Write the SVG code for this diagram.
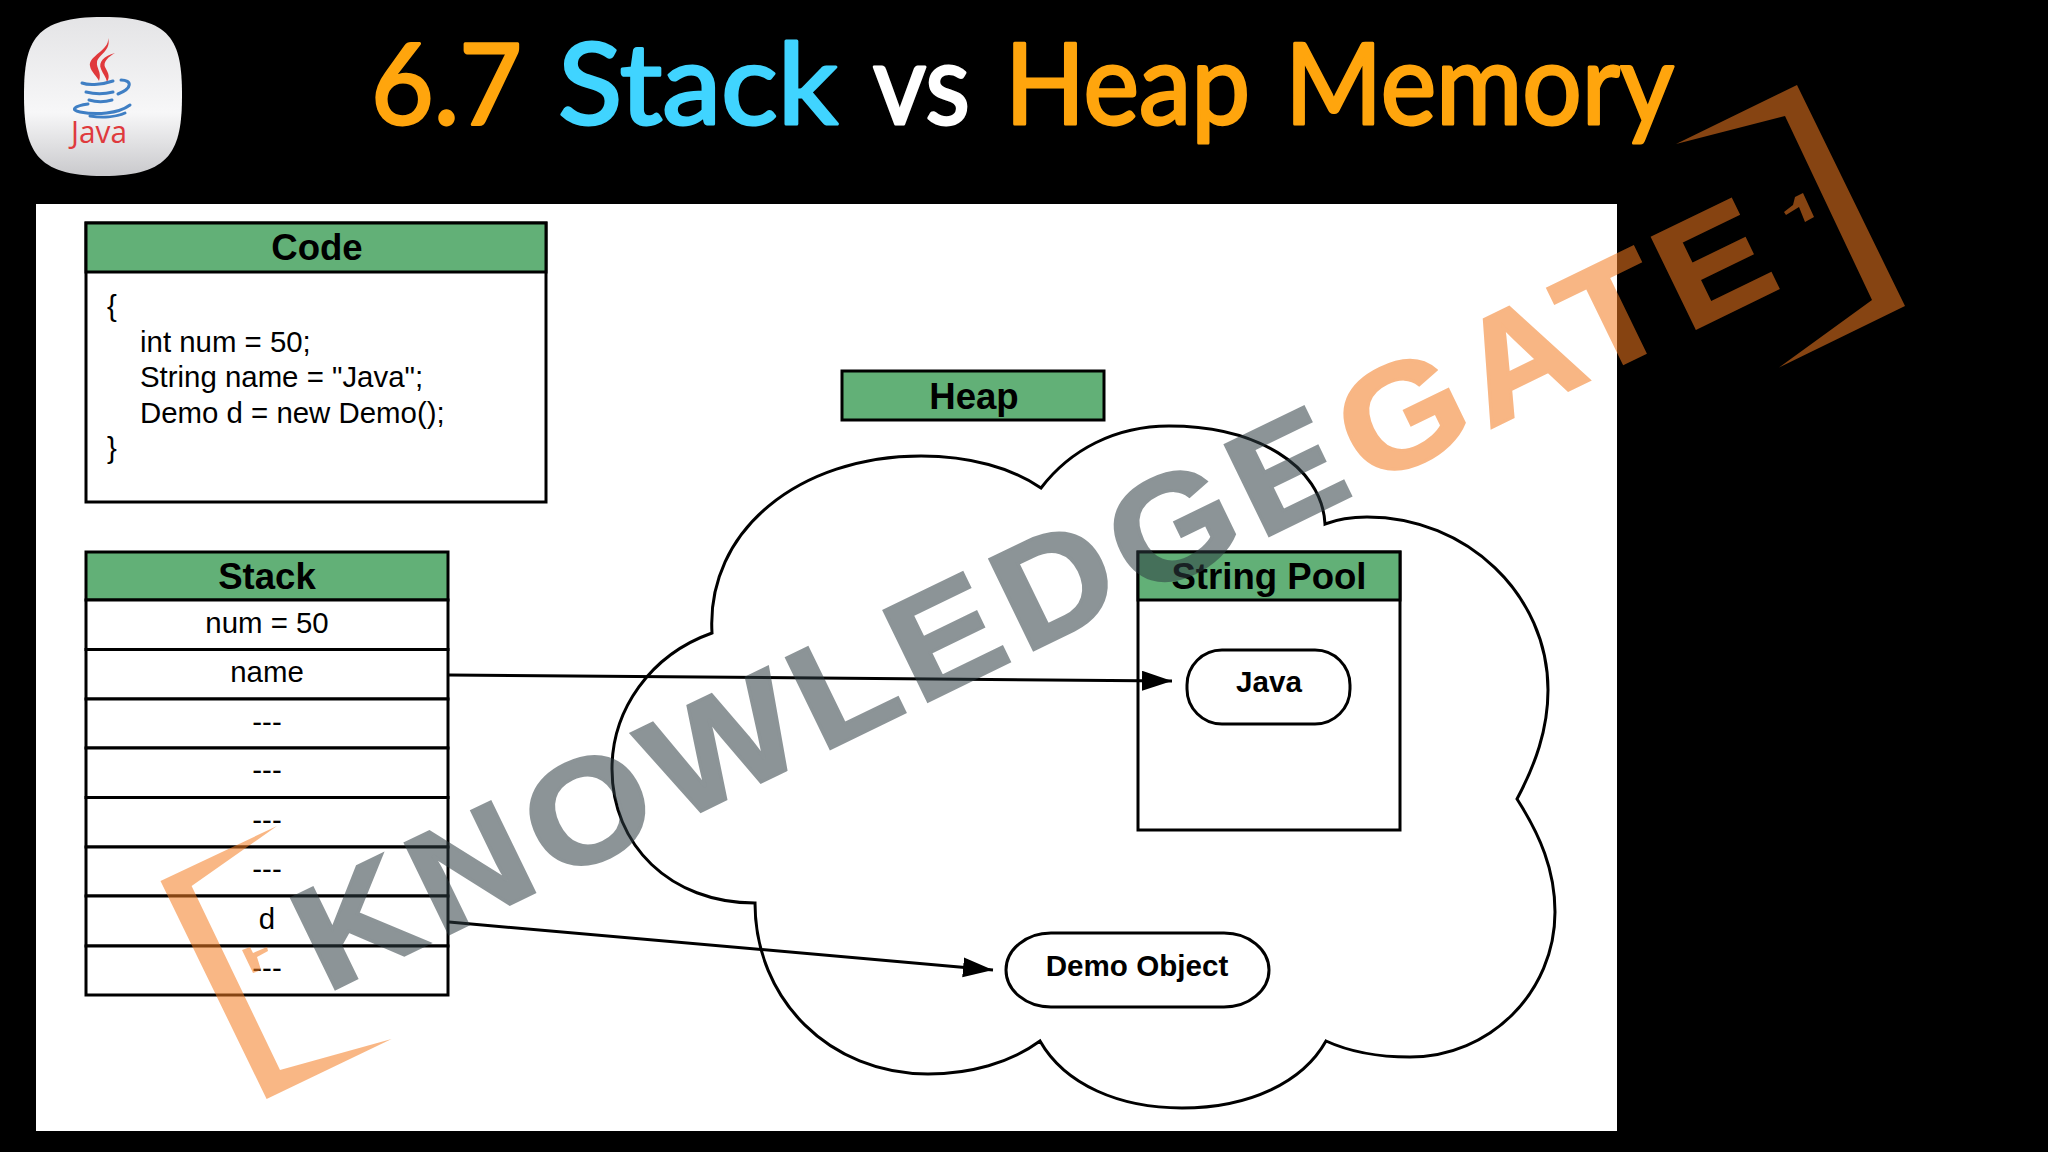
<svg xmlns="http://www.w3.org/2000/svg" width="2048" height="1152" viewBox="0 0 2048 1152">
<defs>
<linearGradient id="ico" x1="0" y1="0" x2="0" y2="1"><stop offset="0" stop-color="#e4e4e6"/><stop offset="0.6" stop-color="#f7f7f8"/><stop offset="1" stop-color="#c9c9cc"/></linearGradient>
<marker id="ah" markerUnits="userSpaceOnUse" markerWidth="32" markerHeight="24" refX="30" refY="10" orient="auto"><path d="M0 0L30 10L0 20Z" fill="#000"/></marker>
</defs>
<style>
.box{fill:#fff;stroke:#000;stroke-width:3}
.hd{fill:#62b077;stroke:#000;stroke-width:3}
.h{font:700 36.600px "Liberation Sans",Arial,sans-serif;text-anchor:middle;fill:#000}
.t{font:400 29.400px "Liberation Sans",Arial,sans-serif;fill:#000}
.c{text-anchor:middle}
.b{font-weight:700;font-size:29.600px}
.ln{fill:none;stroke:#000;stroke-width:3}
.ttl{font:400 112px "Lato","Noto Sans",sans-serif;stroke-width:3;stroke-linejoin:round}
.or{fill:#ffa50d;stroke:#ffa50d}
.wm{font:700 146px "Liberation Sans",Arial,sans-serif;stroke-width:3;stroke-linejoin:miter}
</style>
<rect width="2048" height="1152" fill="#000"/>
<rect x="36" y="204" width="1581" height="927" fill="#fff"/>

<g id="logo">
<path d="M24 95C24 40 35 17 103 17C171 17 182 40 182 95C182 150 171 176 103 176C35 176 24 150 24 95Z" fill="url(#ico)"/>
<path d="M108 38C110 50 88 56 90 66C91 72 97 76 99 81C102 72 96 68 97 62C98 55 112 50 108 38Z" fill="#e0393c"/>
<path d="M115 53C104 56 98 62 101 69C103 74 106 77 107 82C111 76 107 71 105 67C103 62 108 57 115 53Z" fill="#e0393c"/>
<g fill="none" stroke="#3f7fc4" stroke-width="3" stroke-linecap="round">
<path d="M82 83C90 86 104 84 113 81"/><path d="M86 92C94 94 105 94 113 92"/><path d="M89 100C96 102 105 102 112 100"/>
<path d="M88 104C74 106 70 110 80 112C96 115 118 114 130 105"/><path d="M121 80C132 80 133 88 118 94"/><path d="M90 116C102 118 116 117 125 113"/>
</g>
<text x="71" y="143" font-family="Open Sans,sans-serif" font-size="31" fill="#df3a3d" textLength="56" lengthAdjust="spacingAndGlyphs">Java</text>
</g>

<g id="title">
<text class="ttl or" x="371" y="124" textLength="151" lengthAdjust="spacingAndGlyphs">6.7</text>
<text class="ttl" x="558" y="124" fill="#40d4ff" stroke="#40d4ff" textLength="280" lengthAdjust="spacingAndGlyphs">Stack</text>
<text class="ttl" x="873" y="124" fill="#fff" stroke="#fff" textLength="97" lengthAdjust="spacingAndGlyphs">vs</text>
<text class="ttl or" x="1005" y="124" textLength="245" lengthAdjust="spacingAndGlyphs">Heap</text>
<text class="ttl or" x="1285" y="124" textLength="389" lengthAdjust="spacingAndGlyphs">Memory</text>
</g>

<g id="heap-cloud"><path d="M712 633C706 530 800 456 921 456C970 456 1012 468 1041 488C1070 450 1115 426 1169 426C1255 426 1322 465 1325 524C1338 519 1352 517 1367 517C1467 517 1548 595 1548 690C1548 730 1535 765 1517 799C1540 835 1555 870 1555 912C1555 992 1490 1057 1410 1057C1380 1057 1350 1052 1326 1041C1303 1082 1250 1108 1182 1108C1120 1108 1065 1085 1040 1041C1010 1063 970 1074 928 1074C830 1074 755 1000 755 903C670 903 612 845 612 769C612 710 650 655 712 633Z" fill="#fff" stroke="#000" stroke-width="3"/></g>

<g id="code">
<rect class="box" x="86" y="223" width="460" height="279"/>
<rect class="hd" x="86" y="223" width="460" height="49"/>
<text class="h" x="317" y="260">Code</text>
<text class="t" x="107" y="316">{</text>
<text class="t" x="140" y="352">int num = 50;</text>
<text class="t" x="140" y="387">String name = "Java";</text>
<text class="t" x="140" y="423">Demo d = new Demo();</text>
<text class="t" x="107" y="458">}</text>
</g>

<g id="heap-label">
<rect class="hd" x="842" y="371" width="262" height="49"/>
<text class="h" x="974" y="409">Heap</text>
</g>

<g id="stack">
<rect class="hd" x="86" y="552" width="362" height="48"/>
<text class="h" x="267" y="589">Stack</text>
<rect class="box" x="86" y="600" width="362" height="49.500"/><text class="t c" x="267" y="633">num = 50</text>
<rect class="box" x="86" y="649.500" width="362" height="49.500"/><text class="t c" x="267" y="682">name</text>
<rect class="box" x="86" y="699" width="362" height="49"/><text class="t c" x="267" y="732">---</text>
<rect class="box" x="86" y="748" width="362" height="49.500"/><text class="t c" x="267" y="780">---</text>
<rect class="box" x="86" y="797.500" width="362" height="49.500"/><text class="t c" x="267" y="830">---</text>
<rect class="box" x="86" y="847" width="362" height="49"/><text class="t c" x="267" y="879">---</text>
<rect class="box" x="86" y="896" width="362" height="50"/><text class="t c" x="267" y="929">d</text>
<rect class="box" x="86" y="946" width="362" height="49"/><text class="t c" x="267" y="978">---</text>
</g>

<g id="string-pool">
<rect class="box" x="1138" y="552" width="262" height="278"/>
<rect class="hd" x="1138" y="552" width="262" height="48"/>
<text class="h" x="1269" y="589">String Pool</text>
</g>
<g id="java-node"><rect class="box" x="1187" y="650" width="163" height="74" rx="35" ry="35"/><text class="t c b" x="1269" y="692">Java</text></g>
<g id="demo-node"><rect class="box" x="1006" y="933" width="263" height="74" rx="45" ry="37"/><text class="t c b" x="1137" y="976">Demo Object</text></g>

<g id="connectors">
<line class="ln" x1="449" y1="675" x2="1172" y2="681" marker-end="url(#ah)"/>
<line class="ln" x1="449" y1="922" x2="993" y2="970" marker-end="url(#ah)"/>
</g>

<g id="watermark">
<g fill="#f47b20" fill-opacity="0.55">
<path d="M277 826L160.500 881L266.600 1099L391.600 1039L280 1070L191.600 886Z"/>
<path d="M1676 144L1797 85L1905 306L1779 367.500L1872 300L1785 116Z"/>
<path d="M1784 212L1793 205L1795 197L1803 193L1814 217L1805 222L1799 207L1786 215Z"/>
<path d="M242 950L250 947L253 953L267 947L268 951L257 957L261 970L253 973Z"/>
</g>
<g transform="translate(335 989) rotate(-25.900)">
<text class="wm" transform="translate(-10 0) scale(1.1 1)" fill="#2f3d43" stroke="#2f3d43" opacity="0.55" textLength="1041" lengthAdjust="spacing">KNOWLEDGE</text>
<text class="wm" transform="translate(1148 0) scale(1.1 1)" fill="#f47b20" stroke="#f47b20" opacity="0.55" textLength="420" lengthAdjust="spacing">GATE</text>
</g>
</g>
</svg>
